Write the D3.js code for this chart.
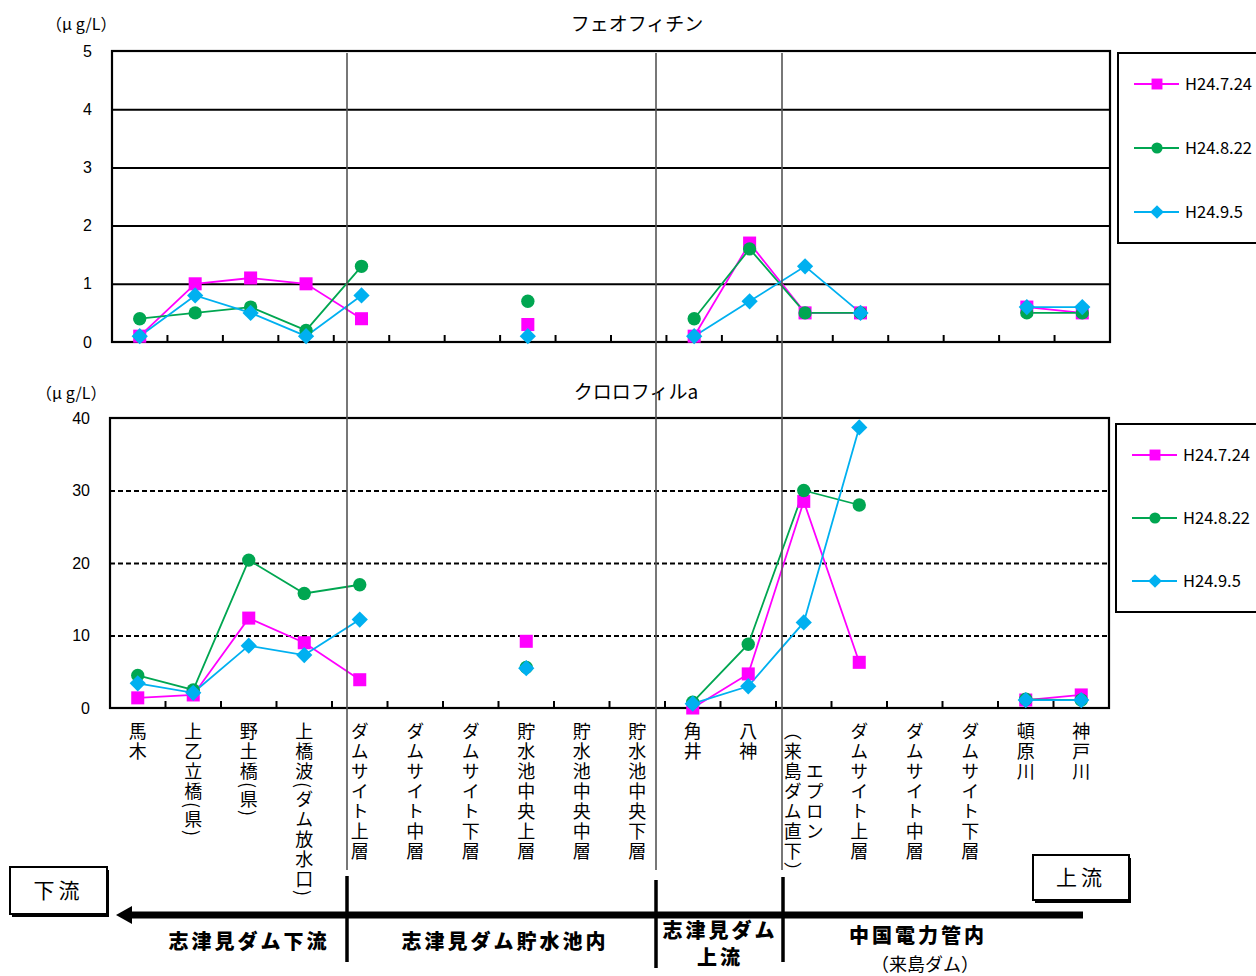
<!DOCTYPE html>
<html><head><meta charset="utf-8">
<script src="https://cdn.jsdelivr.net/npm/d3@7"></script>
<style>
body{margin:0;background:#fff}
text{font-family:"Noto Sans CJK JP","Noto Sans",sans-serif;fill:#000}
.num{font-family:"Liberation Sans",Arial,sans-serif}
</style>
</head><body>
<svg id="c" width="1256" height="976"></svg>
<script>
// ---------- data ----------
const categoryKeys = ["umaki","kamioto","notsuchi","kamihashinami","dsTop1","dsMid1","dsBot1","resTop","resMid","resBot","tsunoi","yagami","apron","dsTop2","dsMid2","dsBot2","tonbara","kando"];
const categoryLabels = [
  ["馬木"],["上乙立橋(県)"],["野土橋(県)"],["上橋波(ダム放水口)"],
  ["ダムサイト上層"],["ダムサイト中層"],["ダムサイト下層"],
  ["貯水池中央上層"],["貯水池中央中層"],["貯水池中央下層"],
  ["角井"],["八神"],["エプロン","（来島ダム直下）"],
  ["ダムサイト上層"],["ダムサイト中層"],["ダムサイト下層"],
  ["頓原川"],["神戸川"]
];
const seriesNames = ["H24.7.24","H24.8.22","H24.9.5"];
const seriesColors = ["#FF00FF","#00A651","#00B0F0"];
const seriesSymbols = ["square","circle","diamond"];

const pheo_0724 = [0.1,1.0,1.1,1.0,0.4,null,null,0.3,null,null,0.1,1.7,0.5,0.5,null,null,0.6,0.5];
const pheo_0822 = [0.4,0.5,0.6,0.2,1.3,null,null,0.7,null,null,0.4,1.6,0.5,0.5,null,null,0.5,0.5];
const pheo_0905 = [0.1,0.8,0.5,0.1,0.8,null,null,0.1,null,null,0.1,0.7,1.3,0.5,null,null,0.6,0.6];

const chl_0724 = [1.4,1.8,12.4,9.0,3.9,null,null,9.2,null,null,0.0,4.7,28.5,6.3,null,null,1.1,1.8];
const chl_0822 = [4.5,2.5,20.4,15.8,17.0,null,null,5.6,null,null,0.8,8.8,30.0,28.0,null,null,1.2,1.1];
const chl_0905 = [3.4,2.1,8.6,7.3,12.2,null,null,5.5,null,null,0.6,3.0,11.8,38.7,null,null,1.1,1.1];

const pheoTicks = [0,1,2,3,4,5];
const chlTicks = [0,10,20,30,40];

const regionNames = ["志津見ダム下流","志津見ダム貯水池内","志津見ダム\n上流","中国電力管内"];

// ---------- drawing ----------
const svg = d3.select("#c");

const diamondType = {draw(ctx, size){const r=Math.sqrt(size)/2*1.15; ctx.moveTo(0,-r);ctx.lineTo(r,0);ctx.lineTo(0,r);ctx.lineTo(-r,0);ctx.closePath();}};
const symType = {square:d3.symbolSquare, circle:d3.symbolCircle, diamond:diamondType};
const symSize = {square:170, circle:140, diamond:200};

function drawChart(cfg){
  const {left,right,top,bottom,maxY,ticks,series,title,dashed,legendBox} = cfg;
  const g = svg.append("g");
  const x = d3.scaleBand().domain(categoryKeys).range([left,right]);
  const y = d3.scaleLinear().domain([0,maxY]).range([bottom,top]);

  // grid
  const grid = g.append("g").attr("transform",`translate(${left},0)`)
    .call(d3.axisLeft(y).tickValues(ticks.filter(t=>t>0 && t<maxY)).tickSize(-(right-left)).tickFormat(""));
  grid.select(".domain").remove();
  grid.selectAll("line").attr("stroke","#000").attr("stroke-width",2)
    .attr("stroke-dasharray",dashed?"5,3":null);

  // frame
  g.append("rect").attr("x",left).attr("y",top).attr("width",right-left).attr("height",bottom-top)
    .attr("fill","none").attr("stroke","#000").attr("stroke-width",2.2);

  // y tick labels
  const ya = g.append("g").attr("transform",`translate(${left},0)`)
    .call(d3.axisLeft(y).tickValues(ticks).tickSize(0).tickPadding(cfg.tickPad).tickFormat(d3.format("d")));
  ya.select(".domain").remove();
  ya.selectAll("text").attr("class","num").style("font-size","16px").style("font-family","'Liberation Sans',Arial,sans-serif").attr("fill","#000");

  // x inner ticks at category boundaries
  g.append("g").selectAll("line").data(categoryKeys.slice(1)).join("line")
    .attr("x1",d=>x(d)).attr("x2",d=>x(d)).attr("y1",bottom).attr("y2",bottom-7)
    .attr("stroke","#000").attr("stroke-width",2);

  // series
  series.forEach((vals,si)=>{
    const pts = vals.map((v,i)=>({k:categoryKeys[i],v}));
    g.append("path").datum(pts)
      .attr("d",d3.line().defined(d=>d.v!=null).x(d=>x(d.k)+x.bandwidth()/2).y(d=>y(d.v)))
      .attr("fill","none").attr("stroke",seriesColors[si]).attr("stroke-width",1.8);
  });
  series.forEach((vals,si)=>{
    const pts = vals.map((v,i)=>({k:categoryKeys[i],v})).filter(d=>d.v!=null);
    const s = seriesSymbols[si];
    g.append("g").selectAll("path").data(pts).join("path")
      .attr("transform",d=>`translate(${x(d.k)+x.bandwidth()/2},${y(d.v)})`)
      .attr("d",d3.symbol().type(symType[s]).size(symSize[s]))
      .attr("fill",seriesColors[si]);
  });

  // title
  g.append("text").attr("x",cfg.titleX).attr("y",cfg.titleY).attr("text-anchor","middle")
    .style("font-size","19px").text(title);
  // unit
  g.append("text").attr("x",cfg.unitX).attr("y",cfg.unitY).style("font-size","16px").text("（μ g/L）");

  // legend
  const lb = legendBox;
  g.append("rect").attr("x",lb.x).attr("y",lb.y).attr("width",lb.w).attr("height",lb.h)
    .attr("fill","#fff").attr("stroke","#000").attr("stroke-width",2);
  seriesNames.forEach((n,si)=>{
    const yy = lb.rows[si];
    g.append("line").attr("x1",lb.x+16).attr("x2",lb.x+61).attr("y1",yy).attr("y2",yy)
      .attr("stroke",seriesColors[si]).attr("stroke-width",2);
    const s = seriesSymbols[si];
    g.append("path").attr("transform",`translate(${lb.x+39},${yy})`)
      .attr("d",d3.symbol().type(symType[s]).size(symSize[s]*0.7)).attr("fill",seriesColors[si]);
    g.append("text").attr("x",lb.x+67).attr("y",yy).attr("dy","0.36em")
      .style("font-size","16.5px").text(n);
  });
  return x;
}

const xTop = drawChart({left:112,right:1110,top:51,bottom:342,maxY:5,ticks:pheoTicks,
  series:[pheo_0724,pheo_0822,pheo_0905],title:"フェオフィチン",dashed:false,tickPad:20,
  titleX:637,titleY:31,unitX:46,unitY:30,
  legendBox:{x:1118,y:53,w:150,h:190,rows:[84,148,212]}});
const xBot = drawChart({left:110,right:1109,top:418,bottom:708,maxY:40,ticks:chlTicks,
  series:[chl_0724,chl_0822,chl_0905],title:"クロロフィルa",dashed:true,tickPad:20,
  titleX:636,titleY:399,unitX:36,unitY:399,
  legendBox:{x:1116,y:424,w:150,h:188,rows:[455,518,581]}});

// category labels (vertical)
const pitch = 20;
categoryKeys.forEach((k,i)=>{
  const lines = categoryLabels[i];
  const cx = xBot(k)+xBot.bandwidth()/2;
  if(lines.length===1){
    svg.append("text").attr("x",cx).attr("y",722)
      .style("writing-mode","vertical-rl").style("letter-spacing","2px").style("font-size","18px")
      .text(lines[0]);
  } else {
    const maxLen = d3.max(lines,l=>l.length);
    lines.forEach((l,j)=>{
      svg.append("text").attr("x",cx + (lines.length-1)*11 - j*22).attr("y",722+maxLen*pitch/2)
        .attr("text-anchor","middle")
        .style("writing-mode","vertical-rl").style("letter-spacing","2px").style("font-size","18px")
        .text(l);
    });
  }
});

// separator lines (thin)
const sepX = [347,656,782];
sepX.forEach(sx=>{
  svg.append("line").attr("x1",sx).attr("x2",sx).attr("y1",53).attr("y2",870)
    .attr("stroke","#555").attr("stroke-width",1.6);
});

// flow arrow
svg.append("line").attr("x1",128).attr("x2",1083).attr("y1",915).attr("y2",915)
  .attr("stroke","#000").attr("stroke-width",7);
svg.append("path").attr("d","M116,915 L132,906 L132,924 Z").attr("fill","#000");

// bold vertical separators in the bottom band
[[347,876,962],[656,880,968],[783,877,962]].forEach(([sx,y1,y2])=>{
  svg.append("line").attr("x1",sx).attr("x2",sx).attr("y1",y1).attr("y2",y2)
    .attr("stroke","#000").attr("stroke-width",3.5);
});

// downstream / upstream boxes
function flowBox(x,y,w,h,label){
  svg.append("rect").attr("x",x+2).attr("y",y+3).attr("width",w).attr("height",h).attr("fill","#000");
  svg.append("rect").attr("x",x).attr("y",y).attr("width",w).attr("height",h)
    .attr("fill","#fff").attr("stroke","#000").attr("stroke-width",2);
  svg.append("text").attr("x",x+w/2).attr("y",y+h/2).attr("dy","0.36em").attr("text-anchor","middle")
    .style("font-size","21px").style("letter-spacing","4px").text(label);
}
flowBox(10,867,97,47,"下流");
flowBox(1033,855,96,45,"上流");

// region labels
const regionPos = [[249,942],[505,942],[720,931],[918,936]];
regionNames.forEach((n,i)=>{
  const parts = n.split("\n");
  parts.forEach((p,j)=>{
    svg.append("text").attr("x",regionPos[i][0]).attr("y",regionPos[i][1]+j*27).attr("dy","0.36em")
      .attr("text-anchor","middle").style("font-size","20px").style("font-weight","900")
      .style("letter-spacing","3px").text(p);
  });
});
svg.append("text").attr("x",925).attr("y",965).attr("dy","0.36em").attr("text-anchor","middle")
  .style("font-size","18px").text("（来島ダム）");
</script>
</body></html>
